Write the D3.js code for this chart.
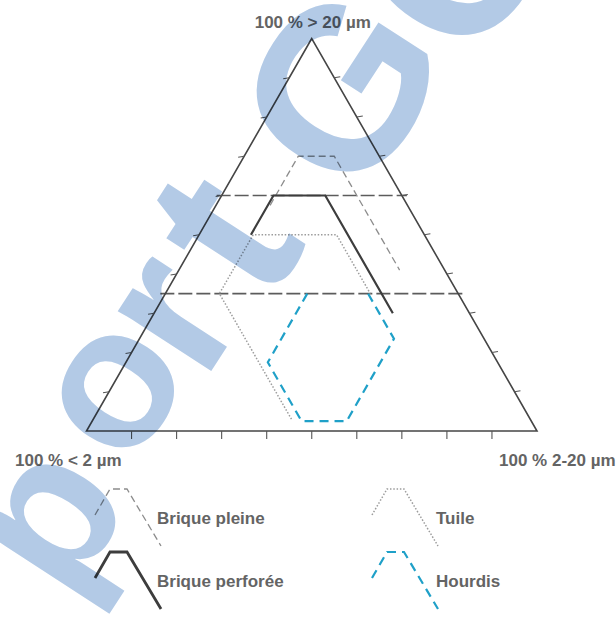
<!DOCTYPE html>
<html>
<head>
<meta charset="utf-8">
<script src="https://cdn.jsdelivr.net/npm/d3@7"></script>
<style>
  body { margin: 0; background: #fff; }
  svg { display: block; }
  text { font-family: "Liberation Sans", Arial, sans-serif; }
</style>
</head>
<body>
<div id="chart"></div>
<script>
// each point: [% > 20 µm, % < 2 µm, % 2-20 µm]
const briquePleine = [[57.5, 30.5, 12], [70, 18, 12], [70, 10, 20], [41, 10, 49]]
const briquePerforee = [[50, 38.5, 11.5], [60, 28.5, 11.5], [60, 17, 23], [30, 17, 53]]
const tuile = [[3, 53, 44], [35, 53, 12], [50, 38, 12], [50, 19.5, 30.5], [35, 19.5, 45.5]]
const hourdis = [[35, 33.5, 31.5], [17.5, 51, 31.5], [2.5, 51, 46.5], [2.5, 41, 56.5], [23.5, 20, 56.5], [35, 20, 45]]
const limits = [60, 35] // % > 20 µm
const tickValues = [10, 20, 30, 40, 50, 60, 70, 80, 90]
const vertexLabels = ["100 % > 20 µm", "100 % < 2 µm", "100 % 2-20 µm"]
const seriesNames = ["Brique pleine", "Brique perforée", "Tuile", "Hourdis"]

const width = 616
const height = 617

const svg = d3.select("#chart")
  .append("svg")
  .attr("width", width)
  .attr("height", height)

// ternary scales: a goes up, c goes right
const yScale = d3.scaleLinear().domain([0, 100]).range([431, 38.5])
const xScale = d3.scaleLinear().domain([0, 100]).range([86.5, 537])
const project = ([a, b, c]) => [xScale(c + a / 2), yScale(a)]

const line = d3.line()

const styles = [
  { data: briquePleine, stroke: "#8c8c8c", width: 1.3, dash: "7,4" },
  { data: briquePerforee, stroke: "#3d3d3d", width: 2.2, dash: null },
  { data: tuile, stroke: "#9c9c9c", width: 1.5, dash: "1.5,1.8" },
  { data: hourdis, stroke: "#1fa0c8", width: 2.2, dash: "9,6" }
]

const plot = svg.append("g").attr("id", "plot")

// limit lines
plot.selectAll("line.limit")
  .data(limits)
  .join("line")
  .attr("class", "limit")
  .attr("x1", a => project([a, 100 - a, 0])[0] - 5)
  .attr("x2", a => project([a, 0, 100 - a])[0] + 5)
  .attr("y1", a => yScale(a))
  .attr("y2", a => yScale(a))
  .attr("stroke", "#5c5c5c")
  .attr("stroke-width", 1.6)
  .attr("stroke-dasharray", "14,4")

// triangle
const corners = [[100, 0, 0], [0, 100, 0], [0, 0, 100]]
plot.append("path")
  .attr("d", line(corners.map(project)) + "Z")
  .attr("fill", "none")
  .attr("stroke", "#454545")
  .attr("stroke-width", 1.6)

// ticks
const tickGroup = plot.append("g")
  .attr("stroke", "#555")
  .attr("stroke-width", 1.1)

tickGroup.selectAll("line.bottom")
  .data(tickValues)
  .join("line")
  .attr("class", "bottom")
  .attr("x1", t => project([0, 100 - t, t])[0])
  .attr("x2", t => project([0, 100 - t, t])[0])
  .attr("y1", yScale(0))
  .attr("y2", yScale(0) + 8)

tickGroup.selectAll("line.left")
  .data(tickValues)
  .join("line")
  .attr("class", "left")
  .attr("x1", t => project([t, 100 - t, 0])[0])
  .attr("x2", t => project([t, 100 - t, 0])[0] - 6)
  .attr("y1", t => yScale(t))
  .attr("y2", t => yScale(t) + 1)

tickGroup.selectAll("line.right")
  .data(tickValues)
  .join("line")
  .attr("class", "right")
  .attr("x1", t => project([t, 0, 100 - t])[0])
  .attr("x2", t => project([t, 0, 100 - t])[0] + 6)
  .attr("y1", t => yScale(t))
  .attr("y2", t => yScale(t) - 1)

// zones
plot.selectAll("path.zone")
  .data(styles)
  .join("path")
  .attr("class", "zone")
  .attr("d", d => line(d.data.map(project)))
  .attr("fill", "none")
  .attr("stroke", d => d.stroke)
  .attr("stroke-width", d => d.width)
  .attr("stroke-dasharray", d => d.dash)

// vertex labels
const labelStyle = sel => sel
  .attr("font-size", 17)
  .attr("font-weight", "bold")
  .attr("fill", "#646464")

svg.append("text")
  .attr("x", project(corners[0])[0] + 1)
  .attr("y", 27.5)
  .attr("text-anchor", "middle")
  .text(vertexLabels[0])
  .call(labelStyle)

svg.append("text")
  .attr("x", 15)
  .attr("y", 466)
  .text(vertexLabels[1])
  .call(labelStyle)

svg.append("text")
  .attr("x", 499)
  .attr("y", 466)
  .text(vertexLabels[2])
  .call(labelStyle)

// legend
const icon = [[0, 26], [15, 0], [32, 0], [66, 57]]
const legend = svg.append("g").attr("class", "legend")
const items = legend.selectAll("g")
  .data(seriesNames)
  .join("g")
  .attr("transform", (d, i) => `translate(${i < 2 ? 95 : 372}, ${i % 2 === 0 ? 489 : 552})`)

items.append("path")
  .attr("d", line(icon))
  .attr("fill", "none")
  .attr("stroke", (d, i) => styles[i].stroke)
  .attr("stroke-width", (d, i) => styles[i].width + (i === 1 ? 0.6 : 0))
  .attr("stroke-dasharray", (d, i) => styles[i].dash)

items.append("text")
  .attr("x", (d, i) => i < 2 ? 62 : 64)
  .attr("y", 35)
  .text(d => d)
  .call(labelStyle)

// watermark, one glyph at a time
const watermark = [
  { ch: "p", x: 55, y: 522, size: 200, dy: "0.27em" },
  { ch: "o", x: 117, y: 391, size: 200, dy: "0.27em" },
  { ch: "r", x: 178, y: 318, size: 210, dy: "0.27em" },
  { ch: "t", x: 222, y: 232, size: 230, dy: "0.34em" },
  { ch: "G", x: 338, y: 86, size: 230, dy: "0.36em" },
  { ch: "C", x: 450, y: -45, size: 230, dy: "0.36em" }
]

svg.append("g")
  .attr("class", "watermark")
  .style("mix-blend-mode", "multiply")
  .selectAll("text")
  .data(watermark)
  .join("text")
  .attr("transform", d => `translate(${d.x}, ${d.y}) rotate(-57)`)
  .attr("text-anchor", "middle")
  .attr("dy", d => d.dy)
  .attr("font-family", "DejaVu Sans")
  .attr("font-weight", "bold")
  .attr("font-size", d => d.size)
  .attr("fill", "#b3cae6")
  .text(d => d.ch)
</script>
</body>
</html>
